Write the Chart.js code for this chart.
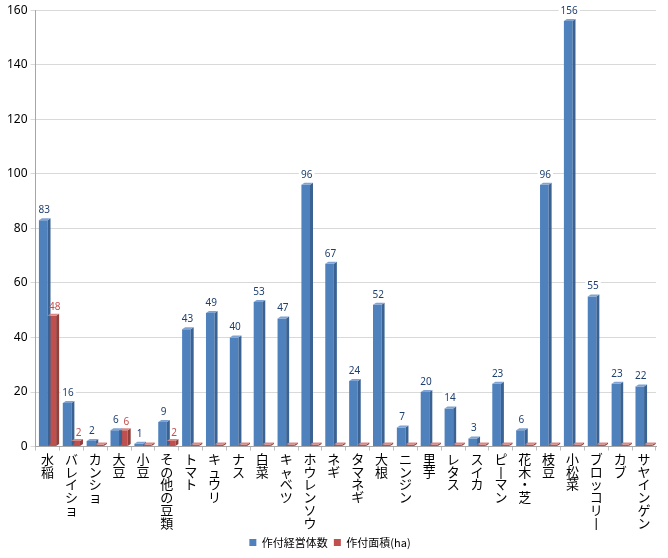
<!DOCTYPE html>
<html>
<head>
<meta charset="utf-8">
<script src="https://cdn.jsdelivr.net/npm/chart.js@4"></script>
<style>
  body { margin: 0; background: #fff; }
  #wrap { width: 668px; height: 558px; position: relative; }
</style>
</head>
<body>
<div id="wrap"><canvas id="chart"></canvas></div>
<script>
const categories = ['水稲', 'バレイショ', 'カンショ', '大豆', '小豆', 'その他の豆類', 'トマト', 'キュウリ', 'ナス', '白菜',
  'キャベツ', 'ホウレンソウ', 'ネギ', 'タマネギ', '大根', 'ニンジン', '里芋', 'レタス', 'スイカ', 'ピーマン',
  '花木・芝', '枝豆', '小松菜', 'ブロッコリー', 'カブ', 'サヤインゲン'];
const farms = [83, 16, 2, 6, 1, 9, 43, 49, 40, 53, 47, 96, 67, 24, 52, 7, 20, 14, 3, 23, 6, 96, 156, 55, 23, 22];
const area = [48, 2, 0, 6, 0, 2, 0, 0, 0, 0, 0, 0, 0, 0, 0, 0, 0, 0, 0, 0, 0, 0, 0, 0, 0, 0];
const yTicks = [0, 20, 40, 60, 80, 100, 120, 140, 160];

// vertical text: one char per line, long-vowel mark turned upright
function verticalLabel(s) {
  return s.split('').map(c => c === 'ー' ? '丨' : c);
}

const shade = ['#3A6394', '#93403D'];
const topShade = ['#7FA3D3', '#D98A87'];
const labelColor = ['#1F3F6E', '#C0504D'];

const bars3d = {
  id: 'bars3d',
  afterDatasetsDraw(chart) {
    const ctx = chart.ctx;
    const d = 3;
    chart.data.datasets.forEach((ds, i) => {
      chart.getDatasetMeta(i).data.forEach((bar, j) => {
        const l = bar.x - bar.width / 2, r = bar.x + bar.width / 2;
        const top = bar.y, base = bar.base;
        ctx.save();
        ctx.fillStyle = shade[i];
        ctx.beginPath();
        ctx.moveTo(r, top); ctx.lineTo(r + d, top - d + 1); ctx.lineTo(r + d, base - d + 1); ctx.lineTo(r, base);
        ctx.closePath(); ctx.fill();
        ctx.fillStyle = topShade[i];
        ctx.beginPath();
        ctx.moveTo(l, top); ctx.lineTo(l + d, top - d + 1); ctx.lineTo(r + d, top - d + 1); ctx.lineTo(r, top);
        ctx.closePath(); ctx.fill();
        ctx.restore();
      });
    });
  }
};

const valueLabels = {
  id: 'valueLabels',
  afterDraw(chart) {
    const ctx = chart.ctx;
    ctx.save();
    ctx.font = '10px "Noto Sans"';
    ctx.textAlign = 'center';
    ctx.textBaseline = 'middle';
    chart.data.datasets.forEach((ds, i) => {
      chart.getDatasetMeta(i).data.forEach((bar, j) => {
        const v = ds.data[j];
        if (v < 1) return;
        const txt = String(v);
        const x = bar.x + (i === 0 ? 1 : 3), y = bar.y - (i === 0 ? 10 : 8);
        const w = ctx.measureText(txt).width + 4;
        if (i === 0) {
          ctx.fillStyle = '#fff';
          ctx.fillRect(x - w / 2, y - 6, w, 12);
        }
        ctx.fillStyle = labelColor[i];
        ctx.fillText(txt, x, y);
      });
    });
    ctx.restore();
  }
};

new Chart(document.getElementById('chart'), {
  type: 'bar',
  data: {
    labels: categories.map(verticalLabel),
    datasets: [
      { label: '作付経営体数', data: farms, backgroundColor: '#4F81BD', minBarLength: 2 },
      { label: '作付面積(ha)', data: area, backgroundColor: '#C0504D', minBarLength: 2 }
    ]
  },
  options: {
    responsive: true,
    maintainAspectRatio: false,
    animation: false,
    layout: { padding: { top: 3, right: 12, left: 4, bottom: 0 } },
    datasets: { bar: { categoryPercentage: 0.72, barPercentage: 1 } },
    plugins: {
      tooltip: { enabled: false },
      legend: {
        position: 'bottom',
        labels: {
          boxWidth: 7, boxHeight: 7, padding: 6,
          color: '#000',
          font: { family: '"Noto Sans CJK JP"', size: 11 }
        }
      }
    },
    scales: {
      x: {
        grid: { display: true, drawOnChartArea: false, tickLength: 4, color: '#BFBFBF', offset: true },
        border: { color: '#A6A6A6' },
        ticks: {
          autoSkip: false, maxRotation: 0, minRotation: 0, color: '#000', padding: 2,
          font: { family: '"Noto Sans CJK JP"', size: 13, lineHeight: 0.98 }
        }
      },
      y: {
        min: 0, max: 160,
        afterBuildTicks(axis) { axis.ticks = yTicks.map(v => ({ value: v })); },
        grid: { color: '#D9D9D9', tickLength: 5 },
        border: { color: '#A6A6A6' },
        ticks: { color: '#000', font: { family: '"Noto Sans"', size: 12 } }
      }
    }
  },
  plugins: [bars3d, valueLabels]
});
</script>
</body>
</html>
